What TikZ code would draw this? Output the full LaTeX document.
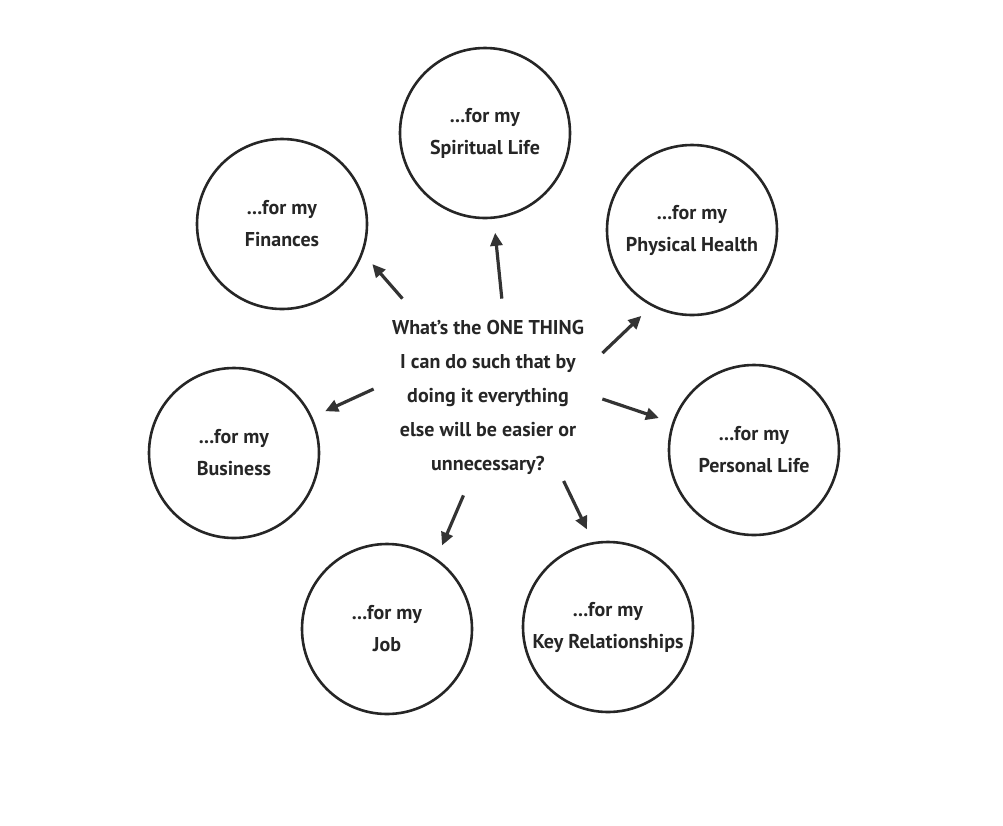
\documentclass[tikz,border=0pt]{standalone}
\usepackage{fontspec}
\setmainfont{PT Sans}
\usetikzlibrary{arrows.meta}

\begin{document}
\begin{tikzpicture}[
  x=0.5pt, y=-0.5pt,
  area/.style={draw=black!85, circle, line width=1.3pt, minimum size=85pt,
               inner sep=0pt, align=center, text=black!85,
               font=\bfseries\fontsize{10}{16}\selectfont},
  ask/.style={align=center, minimum width=114pt, minimum height=98pt,
              inner sep=0pt, text=black!85,
              font=\bfseries\fontsize{10}{17}\selectfont},
  arr/.style={-{Triangle[length=6.5pt, width=6pt]}, line width=1.6pt, black!80,
              shorten >=7pt}
]
\useasboundingbox (0,0) rectangle (1003,826);
% the question in the middle
\node[ask] (q) at (488,397) {What’s the ONE THING\\I can do such that by\\doing it everything\\else will be easier or\\unnecessary?};
% areas of life around it
\node[area] (spi) at (485,133) {...for my\\Spiritual Life};
\node[area] (fin) at (282,224) {...for my\\Finances};
\node[area] (phy) at (692,230) {...for my\\Physical Health};
\node[area] (bus) at (234,453) {...for my\\Business};
\node[area] (per) at (754,450) {...for my\\Personal Life};
\node[area] (job) at (387,629) {...for my\\Job};
\node[area] (key) at (608,627) {...for my\\Key Relationships};
\draw[arr] (q.82)  -- (spi);
\draw[arr] (q.131) -- (fin.-20);
\draw[arr] (q.21)  -- (phy.242);
\draw[arr] (q.176) -- (bus);
\draw[arr] (q.-1)  -- (per);
\draw[arr] (q.256) -- (job.55);
\draw[arr, shorten <=-8pt] (q.310) -- (key.100);
\end{tikzpicture}
\end{document}
